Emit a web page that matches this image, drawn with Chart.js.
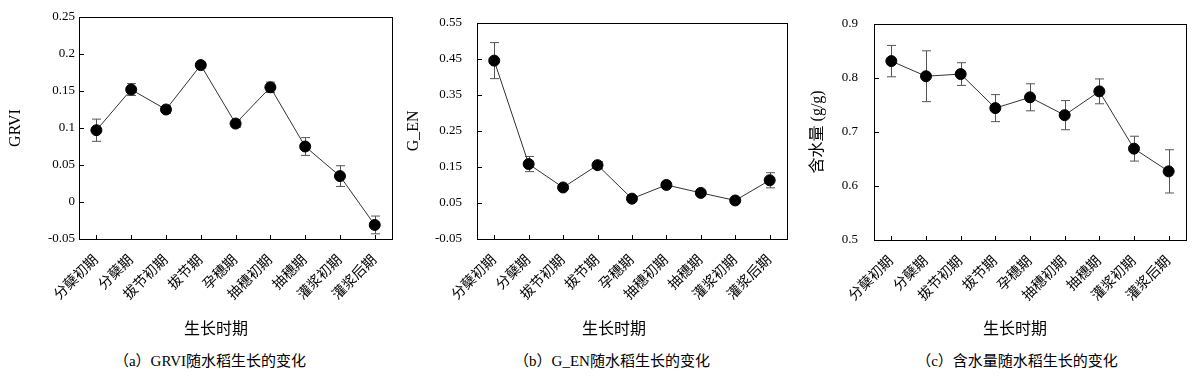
<!DOCTYPE html>
<html>
<head>
<meta charset="utf-8">
<script src="https://cdn.jsdelivr.net/npm/chart.js@4.4.1/dist/chart.umd.min.js"></script>
<style>
  body { margin: 0; background: #fff; width: 1196px; height: 377px; position: relative; overflow: hidden;
         font-family: "Liberation Serif", "Noto Sans CJK SC", serif; }
  canvas { position: absolute; top: 0; }
  .lbl { position: absolute; transform: translate(-50%, -50%); white-space: nowrap; color: #000; }
</style>
</head>
<body>
<canvas id="chartA" width="400" height="320" style="left:0"></canvas>
<canvas id="chartB" width="395" height="320" style="left:400px"></canvas>
<canvas id="chartC" width="401" height="320" style="left:795px"></canvas>

<div class="lbl" style="left:216px;top:327px;font-size:16px">生长时期</div>
<div class="lbl" style="left:614px;top:327px;font-size:16px">生长时期</div>
<div class="lbl" style="left:1015px;top:327px;font-size:16px">生长时期</div>
<div class="lbl" style="left:210px;top:359px;font-size:15px">（a）GRVI随水稻生长的变化</div>
<div class="lbl" style="left:612px;top:359px;font-size:15px">（b）G_EN随水稻生长的变化</div>
<div class="lbl" style="left:1017px;top:359px;font-size:15px">（c）含水量随水稻生长的变化</div>

<script>
// growth stages
var stages = ["分蘖初期", "分蘖期", "拔节初期", "拔节期", "孕穗期", "抽穗初期", "抽穗期", "灌浆初期", "灌浆后期"];

// (a) GRVI
var grvi = [0.097, 0.152, 0.125, 0.185, 0.106, 0.155, 0.075, 0.035, -0.031];
var grviErr = [0.015, 0.008, 0.005, 0.003, 0.005, 0.007, 0.012, 0.014, 0.012];

// (b) G_EN
var gen = [0.445, 0.158, 0.093, 0.155, 0.062, 0.100, 0.078, 0.057, 0.113];
var genErr = [0.05, 0.021, 0.005, 0.01, 0.005, 0.01, 0.005, 0.004, 0.021];

// (c) water content
var water = [0.831, 0.803, 0.807, 0.744, 0.764, 0.731, 0.775, 0.669, 0.627];
var waterErr = [0.029, 0.047, 0.021, 0.025, 0.025, 0.027, 0.023, 0.023, 0.04];

var FONT = '"Liberation Serif", "Noto Sans CJK SC", serif';

// error bars, drawn under the points
var errorBars = {
  id: "errorBars",
  beforeDatasetsDraw: function (chart) {
    var ctx = chart.ctx;
    var ds = chart.data.datasets[0];
    var meta = chart.getDatasetMeta(0);
    var y = chart.scales.y;
    ctx.save();
    ctx.strokeStyle = "#555";
    ctx.lineWidth = 1;
    for (var i = 0; i < ds.data.length; i++) {
      var x = Math.round(meta.data[i].x) + 0.5;
      var top = y.getPixelForValue(ds.data[i] + ds.errors[i]);
      var bot = y.getPixelForValue(ds.data[i] - ds.errors[i]);
      ctx.beginPath();
      ctx.moveTo(x, top); ctx.lineTo(x, bot);
      ctx.moveTo(x - 4.5, top); ctx.lineTo(x + 4.5, top);
      ctx.moveTo(x - 4.5, bot); ctx.lineTo(x + 4.5, bot);
      ctx.stroke();
    }
    ctx.restore();
  }
};

// plot frame with inward tick marks
var frame = {
  id: "frame",
  afterDraw: function (chart) {
    var ctx = chart.ctx;
    var a = chart.chartArea;
    var xs = chart.scales.x, ys = chart.scales.y;
    ctx.save();
    ctx.strokeStyle = "#000";
    ctx.lineWidth = 1;
    ctx.strokeRect(Math.round(a.left) + 0.5, Math.round(a.top) + 0.5,
      Math.round(a.right - a.left), Math.round(a.bottom - a.top));
    ctx.beginPath();
    for (var i = 0; i < xs.ticks.length; i++) {
      var px = Math.round(xs.getPixelForTick(i)) + 0.5;
      ctx.moveTo(px, a.bottom); ctx.lineTo(px, a.bottom - 4);
    }
    for (var j = 0; j < ys.ticks.length; j++) {
      var py = Math.round(ys.getPixelForTick(j)) + 0.5;
      ctx.moveTo(a.left, py); ctx.lineTo(a.left + 5, py);
    }
    ctx.stroke();
    ctx.restore();
  }
};

function makeChart(id, values, errors, yMin, yMax, yStep, yTitle, cfg) {
  return new Chart(document.getElementById(id), {
    type: "line",
    data: {
      labels: stages,
      datasets: [{
        data: values,
        errors: errors,
        borderColor: "#333",
        borderWidth: 1,
        pointRadius: 5.5,
        pointBackgroundColor: "#000",
        pointBorderColor: "#000",
        tension: 0
      }]
    },
    options: {
      responsive: false,
      animation: false,
      layout: { padding: { top: cfg.top, right: cfg.right, left: 0, bottom: 0 } },
      plugins: { legend: { display: false }, tooltip: { enabled: false } },
      scales: {
        x: {
          type: "category",
          offset: true,
          grid: { display: false, drawTicks: false },
          border: { display: false },
          ticks: {
            color: "#000",
            font: { family: FONT, size: 14 },
            minRotation: 45,
            maxRotation: 45,
            autoSkip: false,
            padding: 13
          },
          afterFit: function (s) { s.height = 320 - cfg.bottom; }
        },
        y: {
          min: yMin,
          max: yMax,
          grid: { display: false, drawTicks: false },
          border: { display: false },
          ticks: {
            stepSize: yStep,
            color: "#000",
            font: { family: FONT, size: 13 },
            padding: cfg.tickPad,
            callback: function (v) { return String(Math.round(v * 100) / 100); }
          },
          title: {
            display: true,
            text: yTitle,
            color: "#000",
            font: { family: FONT, size: 16 },
            padding: { top: cfg.titlePad, bottom: 0 }
          },
          afterFit: function (s) { s.width = cfg.left; }
        }
      }
    },
    plugins: [errorBars, frame]
  });
}

makeChart("chartA", grvi, grviErr, -0.05, 0.25, 0.05, "GRVI",
  { top: 17, right: 6, bottom: 239, left: 79, tickPad: 4, titlePad: 6 });
makeChart("chartB", gen, genErr, -0.05, 0.55, 0.1, "G_EN",
  { top: 18, right: 8, bottom: 239, left: 77, tickPad: 15, titlePad: 4 });
makeChart("chartC", water, waterErr, 0.5, 0.9, 0.1, "含水量 (g/g)",
  { top: 18, right: 10, bottom: 240, left: 79, tickPad: 16, titlePad: 13 });
</script>
</body>
</html>
